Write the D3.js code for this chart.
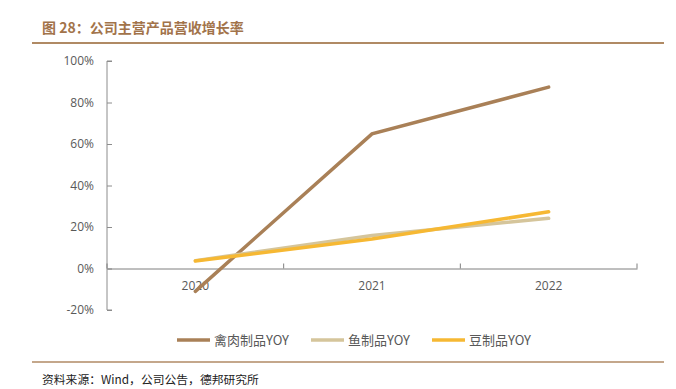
<!DOCTYPE html>
<html>
<head>
<meta charset="utf-8">
<script src="https://cdn.jsdelivr.net/npm/d3@7"></script>
<style>
  body { margin: 0; background: #fff; }
  svg { display: block; font-family: "Noto Sans CJK SC", "Noto Sans", sans-serif; }
</style>
</head>
<body>
<div id="chart"></div>
<script>
// données
const years = ["2020", "2021", "2022"];
const poultry = [-11, 64.9, 87.4];
const fish = [3.8, 15.9, 24.2];
const soy = [3.6, 14.2, 27.3];
const yTicks = [-20, 0, 20, 40, 60, 80, 100];
const seriesNames = ["禽肉制品YOY", "鱼制品YOY", "豆制品YOY"];
const seriesColors = ["#a98057", "#d5c59b", "#f6b833"];

const W = 676, H = 389;
const svg = d3.select("#chart").append("svg").attr("width", W).attr("height", H);

// titre + filets
svg.append("text").attr("x", 42).attr("y", 33)
  .attr("fill", "#a2734a").attr("font-size", 14).attr("font-weight", "bold")
  .text("图 28：公司主营产品营收增长率");
svg.append("line").attr("x1", 32).attr("x2", 664).attr("y1", 43).attr("y2", 43)
  .attr("stroke", "#b08a64").attr("stroke-width", 2);
svg.append("line").attr("x1", 32).attr("x2", 664).attr("y1", 362).attr("y2", 362)
  .attr("stroke", "#b08a64").attr("stroke-width", 1.5);
svg.append("text").attr("x", 42).attr("y", 384)
  .attr("fill", "#222").attr("font-size", 11.8)
  .text("资料来源：Wind，公司公告，德邦研究所");

const x = d3.scaleBand().domain(years).range([107, 637]);
const y = d3.scaleLinear().domain([-20, 100]).range([310, 61]);

// axe Y
const gy = svg.append("g").attr("transform", "translate(107,0)")
  .call(d3.axisRight(y).tickValues(yTicks).tickSize(5).tickFormat(d => d + "%"));
gy.select(".domain").attr("stroke", "#8c8c8c").attr("d", `M5,${y(-20)}H0V${y(100)}H5`);
gy.selectAll(".tick line").attr("stroke", "#8c8c8c");
gy.selectAll(".tick text").attr("x", -13).attr("text-anchor", "end")
  .attr("fill", "#595959").attr("font-size", 12).attr("font-family", "Open Sans, sans-serif");

// axe X sur 0
const gx = svg.append("g").attr("transform", `translate(0,${y(0)})`)
  .call(d3.axisBottom(x).tickSize(0));
gx.select(".domain").attr("stroke", "#7f7f7f");
gx.selectAll(".tick text").attr("dy", 18).attr("fill", "#595959")
  .attr("font-size", 12).attr("font-family", "Open Sans, sans-serif");
const bounds = years.map(d => x(d) + x.bandwidth()).concat([x(years[0])]);
svg.append("g").selectAll("line").data(bounds).join("line")
  .attr("x1", d => d).attr("x2", d => d)
  .attr("y1", y(0) - 5).attr("y2", y(0))
  .attr("stroke", "#7f7f7f");

// séries
const cx = d => x(d) + x.bandwidth() / 2;
const line = d3.line().x((v, i) => cx(years[i])).y(v => y(v));
[poultry, fish, soy].forEach((s, k) => {
  svg.append("path").datum(s).attr("d", line)
    .attr("fill", "none").attr("stroke", seriesColors[k])
    .attr("stroke-width", 3.5).attr("stroke-linecap", "round");
});

// légende
const legendX = [177, 311, 432];
const lg = svg.append("g").selectAll("g").data(seriesNames).join("g")
  .attr("transform", (d, i) => `translate(${legendX[i]},340)`);
lg.append("line").attr("x1", 0).attr("x2", 33)
  .attr("stroke", (d, i) => seriesColors[i]).attr("stroke-width", 3.5);
lg.append("text").attr("x", 37).attr("y", 5)
  .attr("fill", "#595959").attr("font-size", 13).text(d => d);
</script>
</body>
</html>
